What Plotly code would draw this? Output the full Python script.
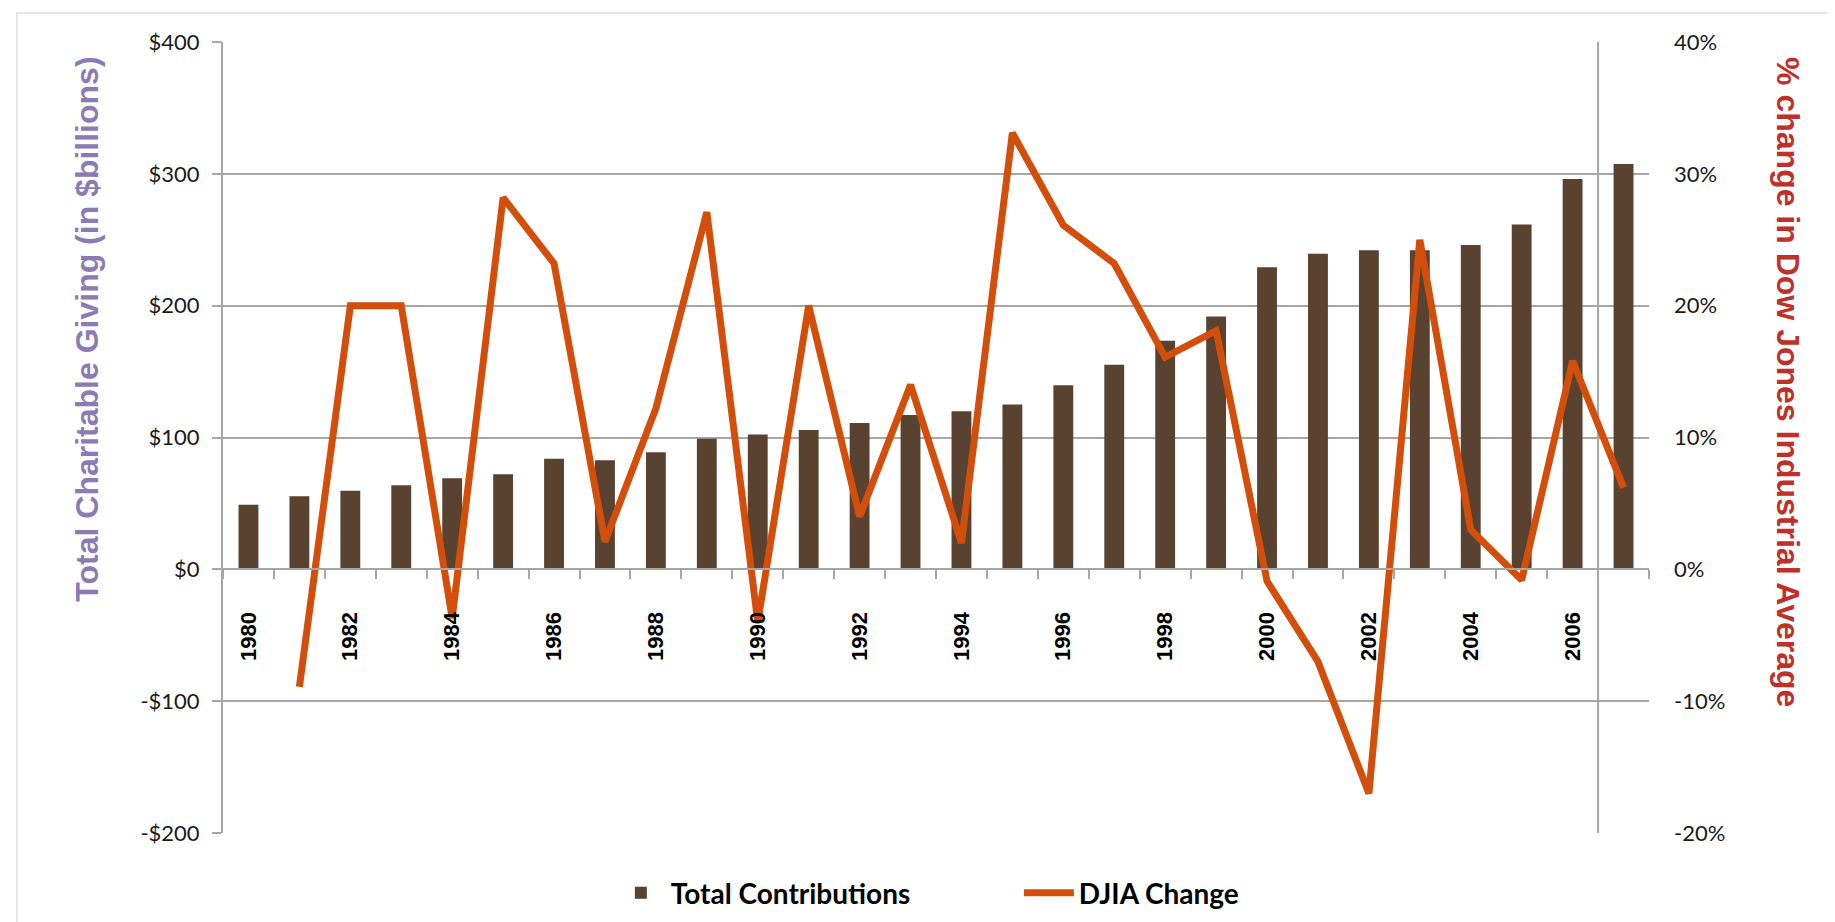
import plotly.graph_objects as go

years = list(range(1980, 2008))
contributions = [49, 55.4, 59.7, 63.8, 69.1, 72.1, 83.8, 82.8, 88.9, 99.0,
                 102.3, 105.6, 111.0, 117.0, 120.0, 125.1, 139.6, 155.1, 173.4, 191.7,
                 229.2, 239.4, 242.0, 242.0, 246.0, 261.5, 296.0, 307.4]
djia_change = [None, -8.9, 20.0, 20.0, -3.7, 28.2, 23.2, 2.1, 12.2, 27.1,
               -4.0, 20.0, 4.0, 14.0, 2.0, 33.1, 26.1, 23.2, 16.1, 18.1,
               -0.9, -7.0, -17.0, 25.0, 3.0, -0.8, 15.8, 6.2]
label_years = [y for y in years if y % 2 == 0 and y <= 2006]
left_ticks = [-200, -100, 0, 100, 200, 300, 400]
left_labels = ["-$200", "-$100", "$0", "$100", "$200", "$300", "$400"]
right_ticks = [-20, -10, 0, 10, 20, 30, 40]
right_labels = ["-20%", "-10%", "0%", "10%", "20%", "30%", "40%"]

GRID = "#A6A6A6"
BAR = "#5A4230"
LINE = "#D24E0A"

fig = go.Figure()
fig.add_trace(go.Bar(x=years, y=contributions, name="Total Contributions",
                     marker=dict(color=BAR, line=dict(width=0)), width=0.39,
                     yaxis="y"))
fig.add_trace(go.Scatter(x=years, y=djia_change, name="DJIA Change", mode="lines",
                         line=dict(color=LINE, width=7), yaxis="y2",
                         connectgaps=False))

fig.update_layout(
    width=1835, height=922,
    margin=dict(l=215, r=194, t=34, b=97),
    paper_bgcolor="white", plot_bgcolor="white",
    showlegend=True,
    legend=dict(orientation="h", x=0.272, xanchor="left", y=-0.076, yanchor="middle",
                font=dict(family="Lato", size=28, color="black", weight="bold"),
                itemwidth=50, entrywidth=343, traceorder="normal"),
    xaxis=dict(range=[1979.5, 2007.5], anchor="free", position=1/3,
               tickmode="array", tickvals=label_years, ticktext=[str(y) for y in label_years],
               tickangle=-90, ticks="", ticklabelstandoff=33,
               tickfont=dict(family="Liberation Sans", size=22, color="black", weight="bold"),
               showline=True, linecolor=GRID, linewidth=2, showgrid=False, zeroline=False,
               minor=dict(tickmode="linear", tick0=1979.5, dtick=1, ticks="outside",
                          ticklen=9, tickwidth=2, tickcolor=GRID, showgrid=False)),
    yaxis=dict(range=[-200, 400], tickmode="array", tickvals=left_ticks, ticktext=left_labels,
               showgrid=True, gridcolor=GRID, gridwidth=2, zeroline=False,
               showline=True, linecolor=GRID, linewidth=2,
               ticks="outside", ticklen=9, tickwidth=2, tickcolor=GRID,
               tickfont=dict(family="Lato", size=22, color="#1a1a1a"),
               ticklabelstandoff=8),
    yaxis2=dict(range=[-20, 40], overlaying="y", side="right", tickmode="array",
                tickvals=right_ticks, ticktext=right_labels, showgrid=False,
                zeroline=False, showline=False, ticks="", ticklabelstandoff=24,
                tickfont=dict(family="Lato", size=22, color="#1a1a1a")),
    bargap=0.6,
)

# vertical reference line between 2006 and 2007
fig.add_shape(type="line", xref="x", yref="paper", x0=2006.5, x1=2006.5, y0=0, y1=1,
              line=dict(color=GRID, width=2), layer="below")
# outer chart frame
fig.add_shape(type="rect", xref="paper", yref="paper",
              x0=-0.1445, x1=1.1346, y0=-0.125, y1=1.0367,
              line=dict(color="#DDDDDD", width=1.5), layer="below")

fig.add_annotation(text="<b>Total Charitable Giving (in $billions)</b>", xref="paper", yref="paper",
                   x=-0.095, y=0.637, xanchor="center", yanchor="middle", textangle=-90,
                   showarrow=False,
                   font=dict(family="Liberation Sans", size=32, color="#8B7BB5"))
fig.add_annotation(text="<b>% change in Dow Jones Industrial Average</b>", xref="paper", yref="paper",
                   x=1.0975, y=0.57, xanchor="center", yanchor="middle", textangle=90,
                   showarrow=False,
                   font=dict(family="Liberation Sans", size=32, color="#C0302A"))

fig.write_html("out.html")
